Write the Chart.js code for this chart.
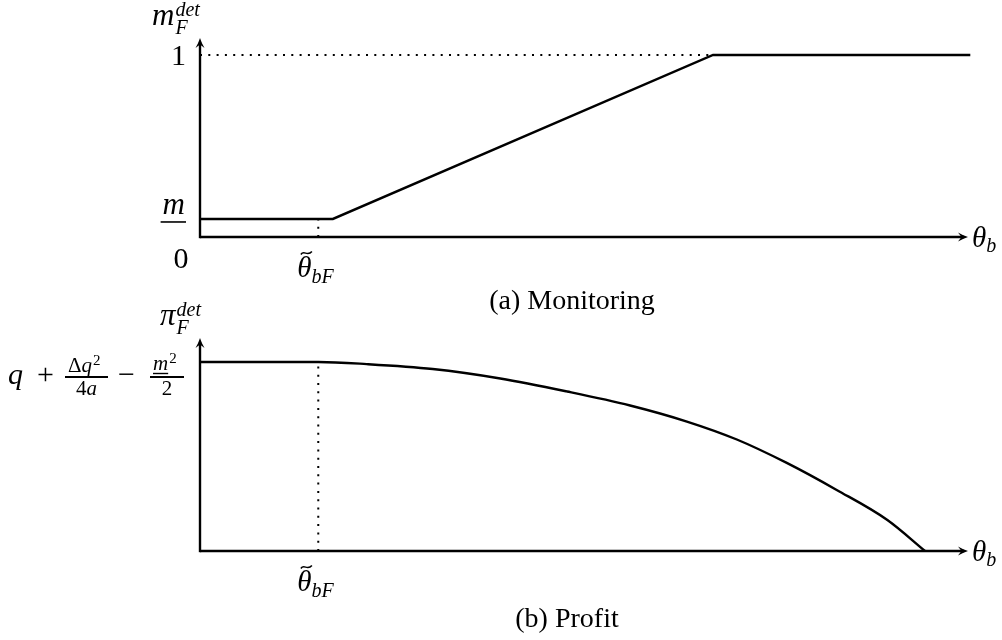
<!DOCTYPE html>
<html>
<head>
<meta charset="utf-8">
<script src="https://cdn.jsdelivr.net/npm/chart.js@4.4.1/dist/chart.umd.min.js"></script>
<style>
  html, body { margin: 0; padding: 0; background: #fff; }
  #contenedor { position: relative; width: 1002px; height: 640px; overflow: hidden; }
  .panel { position: absolute; left: 0; width: 1002px; }
  #panelMonitoreo { top: 0; height: 330px; }
  #panelBeneficio { top: 290px; height: 350px; }
</style>
</head>
<body>
<div id="contenedor">
  <div class="panel" id="panelMonitoreo"><canvas id="canvasMonitoreo"></canvas></div>
  <div class="panel" id="panelBeneficio"><canvas id="canvasBeneficio"></canvas></div>
</div>
<script>
// (a) Monitoreo m_F^det frente a θ_b
const thetaMonitoreo = [0, 0.173, 0.668, 1.003];
const valoresMonitoreo = [0.099, 0.099, 1, 1];

// (b) Beneficio π_F^det frente a θ_b
const thetaBeneficio = [0, 0.154, 0.217, 0.303, 0.391, 0.478, 0.560, 0.634, 0.699, 0.764, 0.829, 0.895, 0.944];
const valoresBeneficio = [1, 1, 0.989, 0.963, 0.913, 0.844, 0.770, 0.685, 0.590, 0.466, 0.323, 0.164, 0];

// Umbral θ̃_bF, nivel mínimo m y marcas del eje Y
const thetaUmbral = 0.154;
const mMinimo = 0.099;
const marcasMonitoreo = [0, mMinimo, 1];
const marcasBeneficio = [1];

// Textos
const titulos = ['(a) Monitoring', '(b) Profit'];

const SERIF = '"Liberation Serif", "DejaVu Serif", serif';

function texto(ctx, s, x, y, size, italic, align) {
  ctx.font = (italic ? 'italic ' : '') + size + 'px ' + SERIF;
  ctx.textAlign = align || 'left';
  ctx.textBaseline = 'alphabetic';
  ctx.fillText(s, x, y);
  return ctx.measureText(s).width;
}

function medir(ctx, s, size, italic) {
  ctx.font = (italic ? 'italic ' : '') + size + 'px ' + SERIF;
  return ctx.measureText(s).width;
}

function linea(ctx, x1, y1, x2, y2, lw) {
  ctx.lineWidth = lw;
  ctx.beginPath();
  ctx.moveTo(x1, y1);
  ctx.lineTo(x2, y2);
  ctx.stroke();
}

// Punta de flecha estilo LaTeX (dx, dy = dirección)
function flecha(ctx, tx, ty, dx, dy) {
  const px = -dy, py = dx;
  ctx.beginPath();
  ctx.moveTo(tx, ty);
  ctx.quadraticCurveTo(tx - dx * 5 + px * 1.5, ty - dy * 5 + py * 1.5, tx - dx * 10 + px * 4.5, ty - dy * 10 + py * 4.5);
  ctx.lineTo(tx - dx * 6.5, ty - dy * 6.5);
  ctx.lineTo(tx - dx * 10 - px * 4.5, ty - dy * 10 - py * 4.5);
  ctx.quadraticCurveTo(tx - dx * 5 - px * 1.5, ty - dy * 5 - py * 1.5, tx, ty);
  ctx.closePath();
  ctx.fill();
}

// θ̃_bF debajo del eje horizontal
function rotuloUmbral(ctx, xc, y0) {
  const xi = xc - 21;
  const w = texto(ctx, 'θ', xi, y0 + 40, 29, true);
  // tilde
  const cx = xi + w / 2 + 2, ty = y0 + 16;
  ctx.lineWidth = 1.5;
  ctx.beginPath();
  ctx.moveTo(cx - 5.5, ty + 1.5);
  ctx.bezierCurveTo(cx - 2.5, ty - 3.5, cx + 1, ty + 4, cx + 5.5, ty - 1.5);
  ctx.stroke();
  texto(ctx, 'bF', xi + w, y0 + 46, 20, true);
}

// θ_b al final del eje horizontal
function rotuloEjeX(ctx, xFin, y0) {
  const w = texto(ctx, 'θ', xFin + 4, y0 + 10, 29, true);
  texto(ctx, 'b', xFin + 4 + w, y0 + 15, 20, true);
}

// Símbolo con subíndice F y superíndice det sobre el eje vertical
function rotuloEjeY(ctx, base, x, yFin) {
  const w = texto(ctx, base, x, yFin - 13, 31, true);
  texto(ctx, 'det', x + w + 1, yFin - 22, 20, true);
  texto(ctx, 'F', x + w + 1, yFin - 4, 20, true);
}

function crearPluginEjes(dibujarRotulos) {
  return {
    id: 'ejesFlecha',
    afterDatasetsDraw(chart) {
      const ctx = chart.ctx;
      const sx = chart.scales.x, sy = chart.scales.y;
      const x0 = sx.getPixelForValue(0), y0 = sy.getPixelForValue(0);
      const xFin = sx.getPixelForValue(sx.max), yFin = sy.getPixelForValue(sy.max);
      ctx.save();
      ctx.strokeStyle = '#000';
      ctx.fillStyle = '#000';
      linea(ctx, x0, y0, xFin - 4, y0, 2.4);
      linea(ctx, x0, y0 + 1.2, x0, yFin + 4, 2.4);
      flecha(ctx, xFin, y0, 1, 0);
      flecha(ctx, x0, yFin, 0, -1);
      dibujarRotulos(ctx, sx, sy, { x0, y0, xFin, yFin });
      ctx.restore();
    }
  };
}

function puntos(xs, ys) {
  return xs.map((x, i) => ({ x: x, y: ys[i] }));
}

function opcionesBase(ymax, padding) {
  return {
    responsive: true,
    maintainAspectRatio: false,
    animation: false,
    layout: { padding: padding },
    plugins: { legend: { display: false }, tooltip: { enabled: false } },
    elements: { point: { radius: 0 } },
    scales: {
      x: { type: 'linear', min: 0, max: 1, display: false },
      y: { type: 'linear', min: 0, max: ymax, display: false }
    }
  };
}

const estiloPunteado = { borderColor: '#000', borderWidth: 2, borderDash: [2, 6.3], pointRadius: 0, clip: false };

// Gráfico (a): monitoreo
new Chart(document.getElementById('canvasMonitoreo').getContext('2d'), {
  type: 'line',
  data: {
    datasets: [
      { data: puntos(thetaMonitoreo, valoresMonitoreo), borderColor: '#000', borderWidth: 2.4, tension: 0, clip: false },
      Object.assign({ data: puntos([0, thetaMonitoreo[2]], [1, 1]) }, estiloPunteado),
      Object.assign({ data: puntos([thetaUmbral, thetaUmbral], [0, mMinimo]) }, estiloPunteado)
    ]
  },
  options: opcionesBase(1.093, { left: 200, right: 34, top: 38, bottom: 93 }),
  plugins: [crearPluginEjes((ctx, sx, sy, p) => {
    rotuloEjeY(ctx, 'm', p.x0 - 48, p.yFin);
    // marcas del eje vertical: 0, m y 1
    const [v0, vm, v1] = marcasMonitoreo;
    texto(ctx, '1', p.x0 - 14, sy.getPixelForValue(v1) + 10, 30, false, 'right');
    const ym = sy.getPixelForValue(vm);
    const wm = texto(ctx, 'm', p.x0 - 15, ym - 5, 31, true, 'right');
    linea(ctx, p.x0 - 15 - wm - 2, ym + 3, p.x0 - 14, ym + 3, 1.6);
    texto(ctx, '0', p.x0 - 19, sy.getPixelForValue(v0) + 31, 30, false, 'center');
    rotuloUmbral(ctx, sx.getPixelForValue(thetaUmbral), p.y0);
    rotuloEjeX(ctx, p.xFin, p.y0);
    texto(ctx, titulos[0], 572, 309, 28, false, 'center');
  })]
});

// Gráfico (b): beneficio
new Chart(document.getElementById('canvasBeneficio').getContext('2d'), {
  type: 'line',
  data: {
    datasets: [
      { data: puntos(thetaBeneficio, valoresBeneficio), borderColor: '#000', borderWidth: 2.4, cubicInterpolationMode: 'monotone', clip: false },
      Object.assign({ data: puntos([thetaUmbral, thetaUmbral], [0, 1]) }, estiloPunteado)
    ]
  },
  options: opcionesBase(1.127, { left: 200, right: 34, top: 48, bottom: 89 }),
  plugins: [crearPluginEjes((ctx, sx, sy, p) => {
    rotuloEjeY(ctx, 'π', p.x0 - 40, p.yFin);
    // marca: q + Δq²/4a − m²/2
    const y1 = sy.getPixelForValue(marcasBeneficio[0]);
    const eje = y1 + 15;
    texto(ctx, 'q', 8, y1 + 22, 30, true);
    texto(ctx, '+', 37, y1 + 22, 30, false);
    linea(ctx, 65, eje, 108, eje, 1.8);
    let xn = 68;
    xn += texto(ctx, 'Δ', xn, y1 + 10, 21, false);
    xn += texto(ctx, 'q', xn, y1 + 10, 21, true);
    texto(ctx, '2', xn + 1, y1 + 3, 15, false);
    const w4 = medir(ctx, '4', 21, false), wa = medir(ctx, 'a', 21, true);
    let xd = 86.5 - (w4 + wa) / 2;
    xd += texto(ctx, '4', xd, y1 + 33, 21, false);
    texto(ctx, 'a', xd, y1 + 33, 21, true);
    texto(ctx, '−', 118, y1 + 22, 30, false);
    linea(ctx, 150, eje, 184, eje, 1.8);
    const wm = texto(ctx, 'm', 153, y1 + 8, 21, true);
    linea(ctx, 153, y1 + 11.5, 153 + wm, y1 + 11.5, 1.4);
    texto(ctx, '2', 153 + wm + 1, y1 + 1, 15, false);
    texto(ctx, '2', 167, y1 + 33, 21, false, 'center');
    rotuloUmbral(ctx, sx.getPixelForValue(thetaUmbral), p.y0);
    rotuloEjeX(ctx, p.xFin, p.y0);
    texto(ctx, titulos[1], 567, 337, 28, false, 'center');
  })]
});
</script>
</body>
</html>
